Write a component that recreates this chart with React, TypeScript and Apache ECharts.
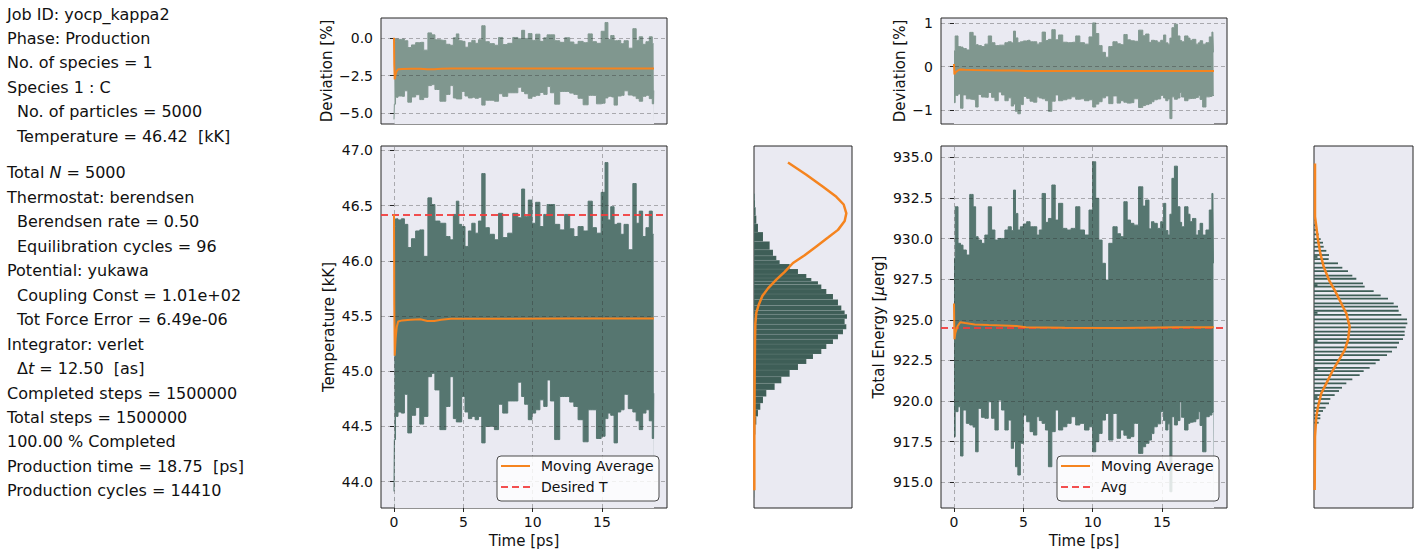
import React, { useEffect, useRef } from 'react';
import * as echarts from 'echarts';

// ---------------- data ----------------
const desiredT = 46.42; // kK
const energyAvg = 924.52; // µerg
const energyRef = 925.45; // reference used by the energy deviation panel

const tempTime = [0, 0.05, 0.17, 0.41, 0.65, 0.85, 1.14, 1.38, 1.74, 1.98, 2.3, 2.59, 2.83, 3.07, 3.55, 3.92, 4.16, 4.4, 4.59, 4.76, 5.0, 5.24, 5.49, 5.73, 5.97, 6.21, 6.45, 6.69, 7.06, 7.42, 7.66, 8.02, 8.38, 8.75, 9.11, 9.3, 9.54, 9.83, 10.07, 10.36, 10.68, 10.92, 11.16, 11.4, 11.77, 12.13, 12.49, 12.85, 13.09, 13.46, 13.82, 14.18, 14.42, 14.78, 15.1, 15.34, 15.51, 15.75, 15.99, 16.23, 16.47, 16.71, 17.08, 17.37, 17.56, 17.81, 18.05, 18.29, 18.53, 18.72, 18.75];
const tempUpper = [46.3, 46.31, 46.38, 46.37, 46.38, 46.33, 46.12, 46.2, 46.27, 46.28, 46.04, 46.57, 46.51, 46.36, 46.34, 46.22, 46.19, 46.42, 46.54, 46.33, 46.31, 46.13, 46.27, 46.34, 46.25, 46.36, 46.79, 46.3, 46.24, 46.19, 46.43, 46.21, 46.25, 46.43, 46.39, 46.65, 46.4, 46.55, 46.34, 46.53, 46.31, 46.42, 46.51, 46.51, 46.33, 46.28, 46.42, 46.29, 46.22, 46.31, 46.27, 46.54, 46.3, 46.25, 46.62, 46.89, 46.37, 46.49, 46.33, 46.34, 46.24, 46.33, 46.1, 46.7, 46.34, 46.45, 46.22, 46.3, 46.45, 46.24, 46.24];
const tempLower = [43.91, 44.38, 44.59, 44.63, 44.62, 44.79, 44.44, 44.6, 44.67, 44.52, 44.59, 44.95, 44.98, 44.83, 44.47, 44.68, 44.95, 44.57, 44.54, 44.54, 44.77, 44.63, 44.57, 44.59, 44.56, 44.59, 44.35, 44.5, 44.5, 44.47, 44.7, 44.62, 44.73, 44.73, 44.9, 44.77, 44.7, 44.56, 44.62, 44.65, 44.74, 44.68, 44.92, 44.73, 44.38, 44.77, 44.77, 44.72, 44.68, 44.56, 44.36, 44.65, 44.65, 44.39, 44.41, 44.57, 44.62, 44.6, 44.35, 44.63, 44.65, 44.79, 44.66, 44.63, 44.55, 44.47, 44.62, 44.65, 44.55, 44.39, 44.8];

const tempMATime = [0, 0.02, 0.05, 0.12, 0.2, 0.3, 0.6, 1.2, 1.9, 2.4, 2.9, 3.4, 4.1, 5.2, 7.7, 12.5, 18.75];
const tempMA = [46.42, 45.6, 45.14, 45.3, 45.4, 45.45, 45.46, 45.465, 45.47, 45.455, 45.455, 45.465, 45.474, 45.474, 45.474, 45.477, 45.477];

const energyTime = [0, 0.17, 0.41, 0.53, 0.77, 1.01, 1.26, 1.5, 1.62, 1.86, 2.1, 2.35, 2.59, 2.83, 3.07, 3.31, 3.55, 3.79, 4.03, 4.23, 4.35, 4.52, 4.69, 4.88, 5.12, 5.36, 5.61, 5.85, 6.09, 6.21, 6.5, 6.69, 6.93, 7.18, 7.42, 7.66, 8.02, 8.26, 8.63, 8.92, 9.23, 9.59, 9.88, 10.12, 10.32, 10.56, 10.8, 11.04, 11.28, 11.64, 11.89, 12.13, 12.37, 12.61, 12.85, 13.09, 13.53, 13.7, 13.94, 14.18, 14.3, 14.54, 14.78, 15.03, 15.2, 15.34, 15.51, 15.63, 15.8, 15.99, 16.23, 16.36, 16.47, 16.79, 16.96, 17.08, 17.32, 17.56, 17.68, 17.81, 18.05, 18.29, 18.53, 18.67, 18.75];
const energyUpper = [928.78, 931.96, 929.71, 929.6, 929.3, 928.99, 932.72, 931.96, 930.12, 929.91, 929.71, 930.22, 931.96, 930.53, 929.91, 930.01, 930.01, 930.53, 930.73, 930.5, 932.99, 931.55, 930.53, 930.73, 930.9, 931.04, 930.73, 930.73, 930.22, 930.53, 932.78, 931.0, 931.24, 933.3, 931.14, 932.17, 930.63, 930.53, 930.63, 931.96, 930.53, 930.22, 931.76, 934.73, 932.48, 929.91, 928.48, 927.45, 929.71, 930.73, 930.3, 930.12, 932.27, 931.14, 930.94, 930.83, 933.19, 932.0, 932.37, 930.6, 931.04, 930.94, 930.63, 931.04, 932.17, 930.5, 930.22, 931.5, 933.71, 934.46, 931.96, 931.0, 930.73, 931.96, 931.5, 931.04, 931.24, 930.22, 930.5, 930.94, 930.22, 930.53, 931.76, 932.78, 928.48];
const energyLower = [917.81, 919.35, 919.65, 916.62, 919.45, 918.63, 918.53, 918.4, 916.88, 919.55, 919.0, 918.94, 919.96, 918.94, 918.22, 920.06, 919.45, 918.22, 918.83, 917.09, 917.5, 915.96, 915.45, 917.4, 919.14, 918.73, 918.12, 917.91, 919.04, 918.8, 918.63, 918.22, 915.96, 918.12, 919.45, 918.22, 918.42, 918.63, 919.04, 918.53, 918.63, 918.22, 918.42, 916.88, 917.5, 918.01, 918.83, 919.24, 917.6, 919.24, 917.71, 918.22, 917.9, 917.71, 917.81, 918.63, 916.78, 917.19, 917.4, 917.6, 918.0, 918.42, 918.6, 919.35, 918.8, 918.22, 918.6, 914.42, 919.04, 918.53, 918.8, 919.96, 919.0, 918.22, 918.63, 918.7, 918.73, 918.9, 919.35, 918.5, 916.88, 919.04, 919.14, 919.3, 919.35];

const energyMATime = [0, 0.03, 0.1, 0.25, 0.45, 0.8, 1.5, 2.5, 3.5, 4.5, 5.2, 8, 12, 16, 18.75];
const energyMA = [926.0, 923.8, 924.2, 924.6, 924.85, 924.8, 924.72, 924.68, 924.65, 924.62, 924.55, 924.52, 924.5, 924.55, 924.55];

// temperature histogram (bin centre [kK], bar length [arb.])
const tempHistT = [43.92, 44.05, 44.2, 44.38, 44.47, 44.56, 44.62, 44.68, 44.74, 44.8, 44.86, 44.92, 44.98, 45.04, 45.09, 45.13, 45.18, 45.22, 45.27, 45.31, 45.36, 45.4, 45.45, 45.5, 45.53, 45.57, 45.62, 45.68, 45.72, 45.77, 45.8, 45.83, 45.86, 45.9, 45.95, 45.99, 46.02, 46.07, 46.13, 46.22, 46.3, 46.37, 46.45, 46.52, 46.58];
const tempHistCount = [0.33, 0.33, 0.33, 0.67, 1.33, 2.33, 4.0, 6.33, 9.0, 12.33, 20.67, 27.33, 35.67, 44.0, 52.33, 59.0, 67.33, 72.33, 79.0, 84.0, 89.0, 92.33, 90.67, 93.0, 90.67, 87.33, 84.0, 79.0, 72.33, 67.33, 64.0, 57.33, 52.33, 44.0, 35.67, 25.67, 22.33, 19.0, 15.67, 9.0, 4.0, 2.33, 1.67, 1.0, 0.67];
const tempCurveT = [46.89, 46.78, 46.67, 46.58, 46.51, 46.43, 46.36, 46.28, 46.21, 46.13, 46.05, 45.98, 45.9, 45.83, 45.75, 45.68, 45.6, 45.53, 45.43, 45.28, 44.98, 44.38, 43.92];
const tempCurveVal = [34.0, 52.33, 69.0, 82.33, 89.67, 92.33, 90.67, 84.0, 74.0, 62.33, 50.67, 39.0, 30.67, 22.33, 14.0, 8.33, 4.67, 2.33, 1.33, 1.0, 0.67, 0.33, 0.33];

// energy histogram (bin centre [µerg], bar length [arb.])
const energyHistE = [931.14, 930.83, 930.53, 930.26, 929.97, 929.75, 929.5, 929.25, 928.99, 928.87, 928.74, 928.48, 928.21, 928.0, 927.72, 927.53, 927.24, 927.14, 927.04, 926.77, 926.51, 926.3, 926.01, 925.81, 925.56, 925.43, 925.3, 925.03, 924.78, 924.54, 924.27, 924.06, 923.82, 923.7, 923.59, 923.31, 923.04, 922.83, 922.53, 922.32, 922.05, 921.97, 921.85, 921.6, 921.34, 921.09, 920.82, 920.62, 920.37, 920.25, 920.13, 919.86, 919.59, 919.39, 919.14, 918.94, 918.67];
const energyHistCount = [1.67, 2.33, 3.0, 4.67, 6.67, 9.0, 9.67, 12.33, 15.0, 3.5, 14.67, 24.0, 28.33, 34.0, 38.33, 42.33, 49.0, 3.5, 50.67, 59.67, 66.67, 74.0, 79.67, 84.0, 84.67, 3.5, 87.33, 93.0, 93.33, 91.67, 90.67, 90.67, 89.0, 3.5, 85.0, 83.0, 78.0, 73.0, 65.67, 61.67, 55.67, 3.5, 49.67, 45.67, 38.33, 32.33, 28.0, 25.0, 20.67, 3.5, 16.33, 15.0, 11.67, 9.0, 6.33, 6.33, 4.67];
const energyCurveE = [934.63, 931.35, 930.73, 929.91, 929.09, 928.27, 927.45, 926.83, 926.01, 925.4, 924.58, 923.76, 923.14, 922.53, 921.91, 921.09, 920.48, 919.65, 919.04, 918.42, 917.81, 914.53];
const energyCurveVal = [1.0, 1.0, 2.33, 4.0, 6.33, 9.67, 15.0, 20.67, 27.33, 32.33, 35.67, 34.0, 30.67, 25.0, 19.0, 12.33, 7.33, 4.0, 2.33, 1.67, 1.0, 0.67];

// tick labels
const timeTicks = [0, 5, 10, 15];
const tempTicks = [44.0, 44.5, 45.0, 45.5, 46.0, 46.5, 47.0];
const tempDevTicks = [-5.0, -2.5, 0.0];
const energyTicks = [915.0, 917.5, 920.0, 922.5, 925.0, 927.5, 930.0, 932.5, 935.0];
const energyDevTicks = [-1, 0, 1];

// info text (left column)
const infoLines: [string, number][] = [
  ['Job ID: yocp_kappa2', 0],
  ['Phase: Production', 0],
  ['No. of species = 1', 0],
  ['Species 1 : C', 0],
  ['No. of particles = 5000', 1],
  ['Temperature = 46.42  [kK]', 1],
  ['Total {i|N} = 5000', 0],
  ['Thermostat: berendsen', 0],
  ['Berendsen rate = 0.50', 1],
  ['Equilibration cycles = 96', 1],
  ['Potential: yukawa', 0],
  ['Coupling Const = 1.01e+02', 1],
  ['Tot Force Error = 6.49e-06', 1],
  ['Integrator: verlet', 0],
  ['Δ{i|t} = 12.50  [as]', 1],
  ['Completed steps = 1500000', 0],
  ['Total steps = 1500000', 0],
  ['100.00 % Completed', 0],
  ['Production time = 18.75  [ps]', 0],
  ['Production cycles = 14410', 0],
];
const infoY = [14, 38.3, 62.7, 87.3, 111.3, 136.3, 172.3, 197, 221.5, 246, 270.7, 295.5, 319.7, 344.3, 368.5, 393.3, 417, 441.5, 466, 490];

// ---------------- styles ----------------
const FONT = '"DejaVu Sans", "Liberation Sans", sans-serif';
const BG = '#EAEAF2';
const FRAME = '#262626';
const TXT = '#111111';
const MAIN = '#567670';
const DEV = '#80978f';
const HIST = '#3e5e57';
const ORANGE = '#f5841f';
const RED = '#f23c3c';
const GRIDLINE = 'rgba(40,40,40,0.42)';
const TMIN = -0.9375;
const TMAX = 19.6875;

const pct = (v: number, ref: number) => ((v - ref) / ref) * 100;
const minus = (s: string) => s.replace('-', '\u2212');

// filled band: upper envelope filled down to the axis start, then the area below the
// lower envelope is painted back with the plot background
function bandSeries(xi: number, times: number[], lo: number[], hi: number[], color: string) {
  return [
    {
      type: 'line', xAxisIndex: xi, yAxisIndex: xi, step: 'middle', symbol: 'none', z: 2,
      lineStyle: { color, width: 1 }, areaStyle: { color, opacity: 1, origin: 'start' },
      data: times.map((t, i) => [t, hi[i]]), silent: true,
    },
    {
      type: 'line', xAxisIndex: xi, yAxisIndex: xi, step: 'middle', symbol: 'none', z: 2,
      lineStyle: { color, width: 1 }, areaStyle: { color: BG, opacity: 1, origin: 'start' },
      data: times.map((t, i) => [t, lo[i]]), silent: true,
    },
  ];
}

function gridSeries(xi: number, xs: number[], ys: number[]) {
  return {
    type: 'line', xAxisIndex: xi, yAxisIndex: xi, data: [], symbol: 'none', z: 3, silent: true,
    markLine: {
      silent: true, symbol: ['none', 'none'], label: { show: false }, animation: false,
      lineStyle: { color: GRIDLINE, width: 0.8, type: [4, 3] },
      data: [...ys.map((v) => ({ yAxis: v })), ...xs.map((v) => ({ xAxis: v }))],
    },
  };
}

function refLine(xi: number, value: number) {
  return {
    type: 'line', xAxisIndex: xi, yAxisIndex: xi, data: [], symbol: 'none', z: 6, silent: true,
    markLine: {
      silent: true, symbol: ['none', 'none'], label: { show: false }, animation: false,
      lineStyle: { color: RED, width: 2, type: [7, 4], opacity: 0.9 },
      data: [{ yAxis: value }],
    },
  };
}

function lineSeries(xi: number, xs: number[], ys: number[], color: string, width: number, z: number) {
  return {
    type: 'line', xAxisIndex: xi, yAxisIndex: xi, symbol: 'none', z, silent: true,
    lineStyle: { color, width }, data: xs.map((x, i) => [x, ys[i]]),
  };
}

function histBinsFromCentres(centres: number[], counts: number[]) {
  const pairs = centres.map((c, i) => [c, counts[i]]).sort((a, b) => a[0] - b[0]);
  return pairs.map((p, i) => {
    const lo = i === 0 ? p[0] - (pairs[1][0] - p[0]) / 2 : (pairs[i - 1][0] + p[0]) / 2;
    const hi = i === pairs.length - 1 ? p[0] + (p[0] - pairs[i - 1][0]) / 2 : (p[0] + pairs[i + 1][0]) / 2;
    return [lo, hi, p[1]];
  });
}

function histSeries(xi: number, bins: number[][], stroke: string, lw: number) {
  return {
    type: 'custom', xAxisIndex: xi, yAxisIndex: xi, z: 2, silent: true, clip: true,
    encode: { x: 2, y: [0, 1] },
    data: bins,
    renderItem: (params: any, api: any) => {
      const a = api.coord([0, api.value(1)]);
      const b = api.coord([api.value(2), api.value(0)]);
      return {
        type: 'rect',
        shape: { x: a[0], y: a[1], width: b[0] - a[0], height: b[1] - a[1] },
        style: { fill: HIST, stroke, lineWidth: lw },
      };
    },
  };
}

const labelStyle = { fontFamily: FONT, fontSize: 14, color: TXT };
const nameStyle = { fontFamily: FONT, fontSize: 15, color: TXT };

function xAxisDef(gi: number, opts: any) {
  return {
    type: 'value', gridIndex: gi, min: TMIN, max: TMAX,
    splitLine: { show: false }, axisLine: { show: false },
    axisTick: { show: false }, axisLabel: { show: false },
    ...opts,
  };
}

function timeAxis(gi: number) {
  return xAxisDef(gi, {
    axisTick: { show: true, length: 4, inside: false, lineStyle: { color: FRAME, width: 1 }, customValues: timeTicks },
    axisLabel: { show: true, ...labelStyle, margin: 7, customValues: timeTicks, formatter: (v: number) => String(v) },
    name: 'Time [ps]', nameLocation: 'middle', nameGap: 24, nameTextStyle: nameStyle,
  });
}

function yAxisDef(gi: number, min: number, max: number, ticks: number[] | null, fmt: any, name: string | null, nameGap: number, rich?: any) {
  const base: any = {
    type: 'value', gridIndex: gi, min, max,
    splitLine: { show: false }, axisLine: { show: false },
    axisTick: { show: false }, axisLabel: { show: false },
  };
  if (ticks) {
    base.axisTick = { show: true, length: 4, lineStyle: { color: FRAME, width: 1 }, customValues: ticks };
    base.axisLabel = { show: true, ...labelStyle, margin: 8, customValues: ticks, formatter: fmt };
  }
  if (name) {
    base.name = name;
    base.nameLocation = 'middle';
    base.nameGap = nameGap;
    base.nameTextStyle = { ...nameStyle, ...(rich ? { rich } : {}) };
  }
  return base;
}

function buildOption() {
  const grids = [
    { left: 381, top: 18, width: 286, height: 106 },
    { left: 381, top: 146, width: 286, height: 362 },
    { left: 754, top: 146, width: 98, height: 362 },
    { left: 941, top: 18, width: 286, height: 106 },
    { left: 941, top: 146, width: 286, height: 362 },
    { left: 1314, top: 146, width: 99, height: 362 },
  ].map((g) => ({ ...g, show: true, backgroundColor: BG, borderColor: FRAME, borderWidth: 1, containLabel: false }));

  const tMin = 43.76, tMax = 47.04;
  const eMin = 913.42, eMax = 935.7;

  const xAxis = [
    xAxisDef(0, {}),
    timeAxis(1),
    { type: 'value', gridIndex: 2, min: 0, max: 98, splitLine: { show: false }, axisLine: { show: false }, axisTick: { show: false }, axisLabel: { show: false } },
    xAxisDef(3, {}),
    timeAxis(4),
    { type: 'value', gridIndex: 5, min: 0, max: 99, splitLine: { show: false }, axisLine: { show: false }, axisTick: { show: false }, axisLabel: { show: false } },
  ];

  const yAxis = [
    yAxisDef(0, -5.71, 1.31, tempDevTicks, (v: number) => minus(v.toFixed(1)), 'Deviation [%]', 47),
    yAxisDef(1, tMin, tMax, tempTicks, (v: number) => v.toFixed(1), 'Temperature [kK]', 45),
    yAxisDef(2, tMin, tMax, null, null, null, 0),
    yAxisDef(3, -1.315, 1.115, energyDevTicks, (v: number) => minus(String(v)), 'Deviation [%]', 34),
    yAxisDef(4, eMin, eMax, energyTicks, (v: number) => v.toFixed(1), 'Total Energy [{i|μ}erg]', 55,
      { i: { fontFamily: FONT, fontSize: 15, fontStyle: 'italic', color: TXT } }),
    yAxisDef(5, eMin, eMax, null, null, null, 0),
  ];

  const tDevLo = tempLower.map((v) => pct(v, desiredT));
  const tDevHi = tempUpper.map((v) => pct(v, desiredT));
  const eDevLo = energyLower.map((v) => pct(v, energyRef));
  const eDevHi = energyUpper.map((v) => pct(v, energyRef));

  const energyBins = energyHistE.map((e, i) => [e - 0.055, e + 0.055, energyHistCount[i]]);

  const series: any[] = [
    // temperature deviation
    ...bandSeries(0, tempTime, tDevLo, tDevHi, DEV),
    gridSeries(0, [], tempDevTicks),
    lineSeries(0, tempMATime, tempMA.map((v) => pct(v, desiredT)), ORANGE, 2, 5),
    // temperature
    ...bandSeries(1, tempTime, tempLower, tempUpper, MAIN),
    gridSeries(1, timeTicks, tempTicks),
    lineSeries(1, tempMATime, tempMA, ORANGE, 2, 5),
    refLine(1, desiredT),
    // temperature histogram
    histSeries(2, histBinsFromCentres(tempHistT, tempHistCount), 'rgba(255,255,255,0.15)', 0.5),
    lineSeries(2, tempCurveVal, tempCurveT, ORANGE, 2.5, 5),
    // energy deviation
    ...bandSeries(3, energyTime, eDevLo, eDevHi, DEV),
    gridSeries(3, [], energyDevTicks),
    lineSeries(3, energyMATime, energyMA.map((v) => pct(v, energyRef)), ORANGE, 2, 5),
    // energy
    ...bandSeries(4, energyTime, energyLower, energyUpper, MAIN),
    gridSeries(4, timeTicks, energyTicks),
    lineSeries(4, energyMATime, energyMA, ORANGE, 2, 5),
    refLine(4, energyAvg),
    // energy histogram
    histSeries(5, energyBins, 'none', 0),
    lineSeries(5, energyCurveVal, energyCurveE, ORANGE, 2.5, 5),
  ];

  const textEls = infoLines.map(([s, indent], i) => ({
    type: 'text', x: indent ? 17 : 7, y: infoY[i], silent: true,
    style: {
      text: s, fontFamily: FONT, fontSize: 16, fill: TXT, verticalAlign: 'middle', align: 'left',
      rich: { i: { fontFamily: FONT, fontSize: 16, fontStyle: 'italic', fill: TXT } },
    },
  }));

  const Z = 100;
  const legend = (x: number, label2: string) => [
    { type: 'rect', z: Z, silent: true, shape: { x, y: 456, width: 162, height: 45, r: 4 }, style: { fill: 'rgba(255,255,255,0.82)', stroke: '#4a4a4a', lineWidth: 1 } },
    { type: 'line', z: Z + 1, silent: true, shape: { x1: x + 4, y1: 466, x2: x + 33, y2: 466 }, style: { stroke: ORANGE, lineWidth: 2 } },
    { type: 'text', z: Z + 1, silent: true, x: x + 44, y: 466, style: { text: 'Moving Average', fontFamily: FONT, fontSize: 14, fill: TXT, verticalAlign: 'middle' } },
    { type: 'line', z: Z + 1, silent: true, shape: { x1: x + 4, y1: 487, x2: x + 33, y2: 487 }, style: { stroke: RED, lineWidth: 2, lineDash: [7, 4], opacity: 0.9 } },
    { type: 'text', z: Z + 1, silent: true, x: x + 44, y: 487, style: { text: label2, fontFamily: FONT, fontSize: 14, fill: TXT, verticalAlign: 'middle' } },
  ];

  return {
    animation: false,
    backgroundColor: '#ffffff',
    grid: grids,
    xAxis,
    yAxis,
    series,
    graphic: [...textEls, ...legend(497, 'Desired T'), ...legend(1057, 'Avg')],
  };
}

export default function App() {
  const ref = useRef<HTMLDivElement>(null);
  useEffect(() => {
    document.body.style.margin = '0';
    const chart = echarts.init(ref.current as HTMLDivElement, null, { renderer: 'svg', width: 1419, height: 555 });
    chart.setOption(buildOption() as any);
    return () => chart.dispose();
  }, []);
  return <div ref={ref} style={{ width: 1419, height: 555 }} />;
}
